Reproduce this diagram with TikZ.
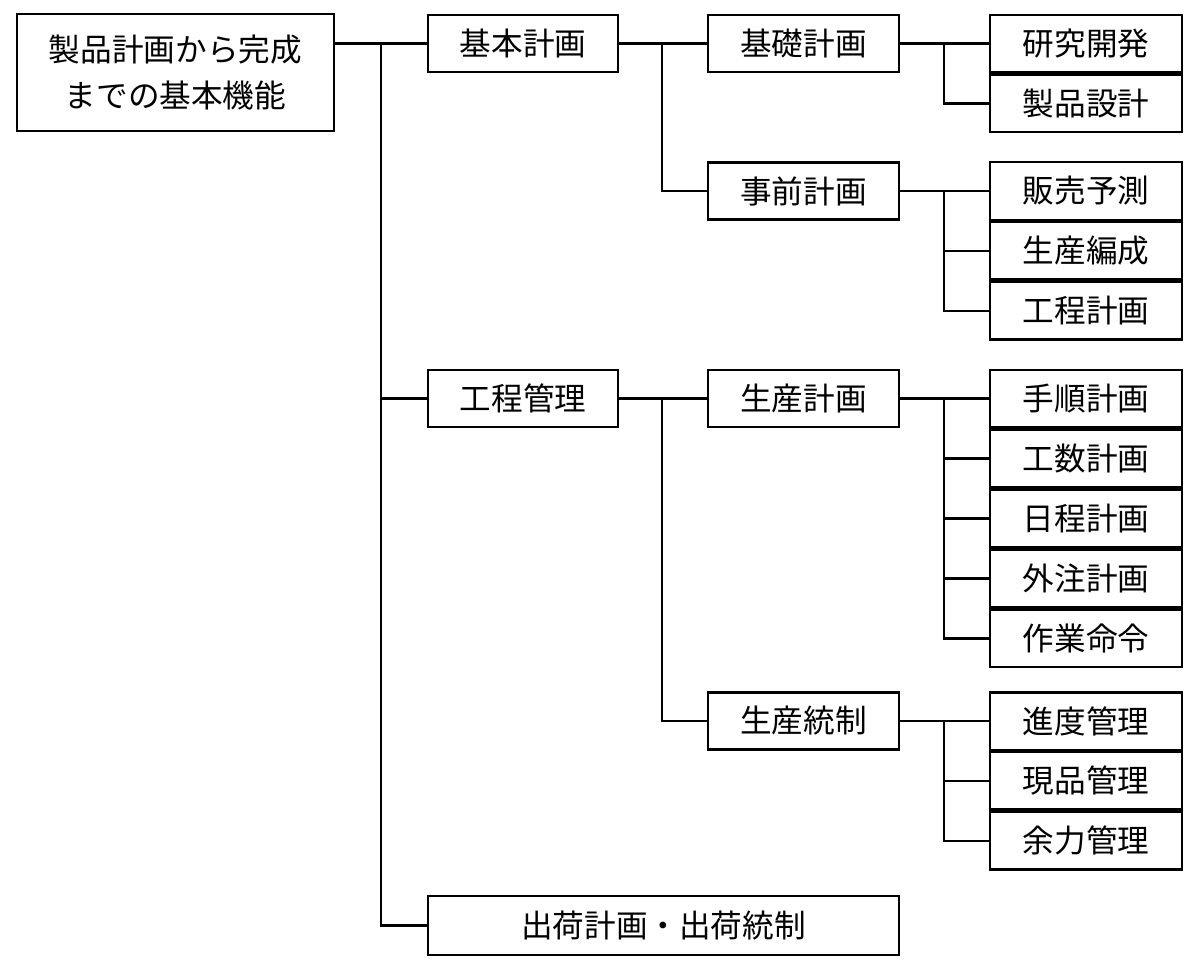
\documentclass[tikz,border=0pt]{standalone}
\usepackage{fontspec}
\newfontfamily\jpfont{Noto Sans CJK JP}
\usetikzlibrary{positioning}

\tikzset{
  box/.style={draw, rectangle, inner sep=0pt, align=center,
    font=\jpfont\fontsize{18}{26}\selectfont},
  radice/.style={box, minimum width=6.34cm, minimum height=2.34cm},
  liv1/.style={box, minimum width=3.8cm, minimum height=1.14cm},
  liv2/.style={box, minimum width=3.82cm, minimum height=1.14cm},
  foglia/.style={box, minimum width=3.84cm, minimum height=1.15cm},
}

\begin{document}
\begin{tikzpicture}[x=0.02cm, y=-0.02cm, line width=1.4pt, node distance=0pt]
\useasboundingbox (0,0) rectangle (1200,968);

% radice
\node[radice] (root) at (175.5,72.5) {製品計画から完成\\までの基本機能};

% livello 1
\node[liv1] (kihon) at (523,43.5) {基本計画};
\node[liv1] (koutei) at (523,398.5) {工程管理};
\node[box, minimum width=9.42cm, minimum height=1.18cm] (shukka) at (663.5,925.5) {出荷計画・出荷統制};

% livello 2
\node[liv2] (kiso) at (803.5,43.5) {基礎計画};
\node[liv2] (jizen) at (803.5,191) {事前計画};
\node[liv2] (seisan) at (803.5,398.5) {生産計画};
\node[liv2] (tousei) at (803.5,721) {生産統制};

% foglie
\node[foglia] (kenkyu) at (1086,43.5) {研究開発};
\node[foglia, below=of kenkyu] (sekkei) {製品設計};

\node[foglia] (hanbai) at (1086,191) {販売予測};
\node[foglia, below=of hanbai] (hensei) {生産編成};
\node[foglia, below=of hensei] (kotei) {工程計画};

\node[foglia] (tejun) at (1086,398.5) {手順計画};
\node[foglia, below=of tejun] (kosu) {工数計画};
\node[foglia, below=of kosu] (nittei) {日程計画};
\node[foglia, below=of nittei] (gaichu) {外注計画};
\node[foglia, below=of gaichu] (sagyo) {作業命令};

\node[foglia] (shindo) at (1086,721) {進度管理};
\node[foglia, below=of shindo] (genpin) {現品管理};
\node[foglia, below=of genpin] (yoryoku) {余力管理};

% punti di diramazione
\coordinate (t0) at (381,0);
\coordinate (t1) at (662,0);
\coordinate (t2) at (944,0);

% collegamenti
\draw (root.east |- kihon) -- (kihon.west);
\draw (kihon.west -| t0) |- (koutei.west);
\draw (kihon.west -| t0) |- (shukka.west);

\draw (kihon.east) -- (kiso.west);
\draw (kihon.east -| t1) |- (jizen.west);
\draw (koutei.east) -- (seisan.west);
\draw (koutei.east -| t1) |- (tousei.west);

\draw (kiso.east) -- (kenkyu.west);
\draw (kiso.east -| t2) |- (sekkei.west);

\draw (jizen.east) -- (hanbai.west);
\foreach \f in {hensei,kotei}
  \draw (jizen.east -| t2) |- (\f.west);

\draw (seisan.east) -- (tejun.west);
\foreach \f in {kosu,nittei,gaichu,sagyo}
  \draw (seisan.east -| t2) |- (\f.west);

\draw (tousei.east) -- (shindo.west);
\foreach \f in {genpin,yoryoku}
  \draw (tousei.east -| t2) |- (\f.west);
\end{tikzpicture}
\end{document}
